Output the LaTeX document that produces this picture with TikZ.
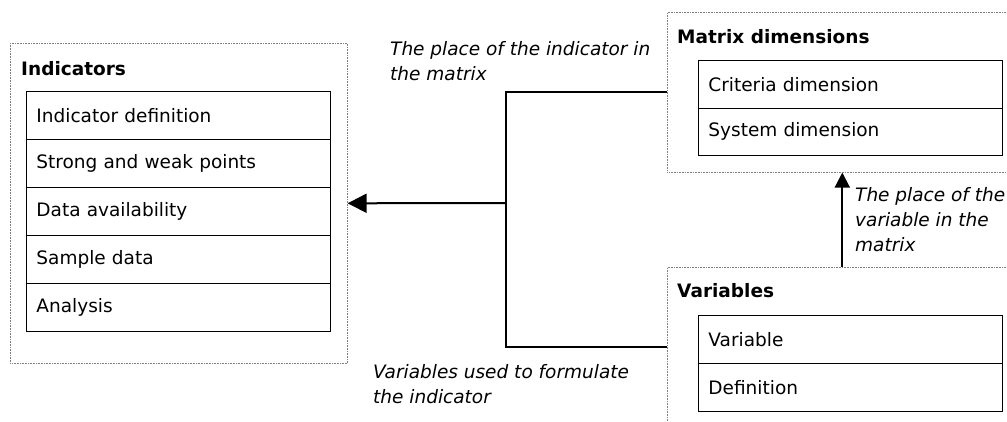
\documentclass[tikz,border=0pt]{standalone}
\usepackage{fontspec}
\setmainfont{DejaVu Sans}
\usetikzlibrary{arrows.meta}

\def\rowh{48}

\begin{document}
\begin{tikzpicture}
[x=1pt, y=-1pt,
every node/.style={
  font=\fontsize{18.5}{25}\selectfont, inner sep=0pt
},
group/.style={
  draw=gray, densely dotted, line width=.6pt, anchor=north west
},
field/.style={
  draw, line width=.9pt, anchor=north west, minimum width=304pt,
  minimum height=\rowh pt, text width=284pt, inner xsep=10pt, align=left
},
grouplabel/.style={
  anchor=base west, font=\fontsize{18.5}{25}\selectfont\bfseries
},
note/.style={
  anchor=base west, align=left, font=\fontsize{18.5}{25}\selectfont\itshape
},
link/.style={line width=2pt}
]
\useasboundingbox (0,0) rectangle (1007,421);
\clip (0,0) rectangle (1007,421);

% Indicators
\node[group, minimum width=337pt, minimum height=320pt] (indicators) at (10,43) {};
\node[grouplabel] (indtitle) at (21,75) {Indicators};
\foreach \txt [count=\i from 0] in {Indicator definition, Strong and weak points,
  Data availability, Sample data, Analysis}
  \node[field] (ind\i) at (26,{91+\i*\rowh}) {\txt};

% Matrix dimensions
\node[group, minimum width=350pt, minimum height=160pt] (matrixdim) at (667,12) {};
\node[grouplabel] (mattitle) at (677,43) {Matrix dimensions};
\node[field, minimum height=47.5pt] (criteria) at (698,60) {Criteria dimension};
\node[field, minimum height=47.5pt] (system) at (698,107.5) {System dimension};

% Variables
\node[group, minimum width=350pt, minimum height=160pt] (variables) at (667,267) {};
\node[grouplabel] (vartitle) at (677,297) {Variables};
\node[field] (variable) at (698,315) {Variable};
\node[field] (definition) at (698,363) {Definition};

% connectors
\coordinate (junction) at (506,203);
\draw[link] (matrixdim.west) -| (junction) |- (variables.west);
\draw[link, -{Triangle[length=19pt, width=19pt]}] (junction) -- (indicators.east);
\draw[link, -{Triangle[length=15pt, width=15pt]}] (variables.north) -- (matrixdim.south);

% notes (base = last line)
\node[note] (placeind) at (390,80) {The place of the indicator in\\the matrix};
\node[note] (usedvars) at (373,403) {Variables used to formulate\\the indicator};
\node[note] (placevar) at (855,251) {The place of the\\variable in the\\matrix};

\end{tikzpicture}
\end{document}
